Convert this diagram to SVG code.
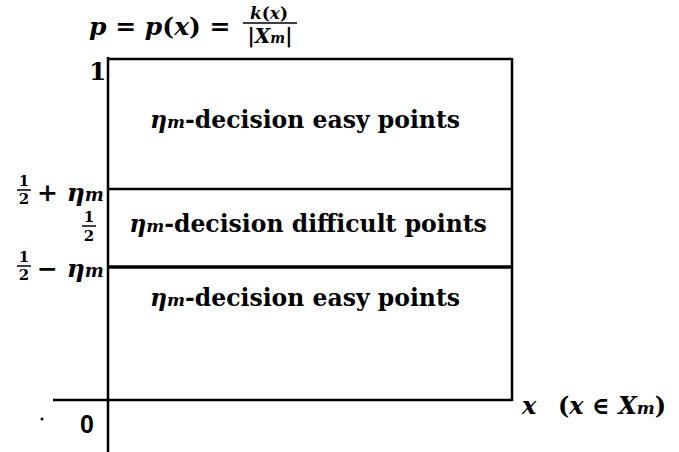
<svg xmlns="http://www.w3.org/2000/svg" width="679" height="452" viewBox="0 0 679 452">
<style>
text{font-family:"DejaVu Serif","Liberation Serif",serif;font-weight:bold;fill:#000}
.i{font-style:italic}
.ax{stroke:#000;stroke-width:2.5;fill:none}
.fr{stroke:#000;stroke-width:1.5}
</style>
<rect width="679" height="452" fill="#fff"/>
<g id="connectors">
<line class="ax" x1="108" y1="57" x2="108" y2="452"/>
<line class="ax" x1="53" y1="400" x2="512" y2="400"/>
<line class="ax" x1="107" y1="59" x2="512" y2="59"/>
<line class="ax" x1="512" y1="58" x2="512" y2="401"/>
<line class="ax" x1="107" y1="189" x2="512" y2="189"/>
<line x1="107" y1="267" x2="512" y2="267" stroke="#000" stroke-width="3.5"/>
</g>
<g id="title">
<text x="89" y="35" font-size="25"><tspan class="i">p</tspan> = <tspan class="i">p</tspan>(<tspan class="i">x</tspan>) =</text>
<text x="269" y="19" font-size="17" text-anchor="middle"><tspan class="i">k</tspan>(<tspan class="i">x</tspan>)</text>
<line class="fr" x1="243" y1="23" x2="297" y2="23"/>
<text x="270" y="43" font-size="20" text-anchor="middle">|<tspan class="i">X</tspan><tspan class="i" font-size="14">m</tspan>|</text>
</g>
<g id="labels-left">
<text x="89" y="80" font-size="25">1</text>
<text x="24" y="186" font-size="15" text-anchor="middle">1</text>
<line class="fr" x1="17" y1="190" x2="31" y2="190"/>
<text x="24" y="204" font-size="15" text-anchor="middle">2</text>
<text x="37" y="201" font-size="25">+ <tspan class="i">η</tspan><tspan class="i" font-size="18">m</tspan></text>
<text x="89" y="222" font-size="15" text-anchor="middle">1</text>
<line class="fr" x1="82" y1="226" x2="96" y2="226"/>
<text x="89" y="241" font-size="15" text-anchor="middle">2</text>
<text x="24" y="262" font-size="15" text-anchor="middle">1</text>
<line class="fr" x1="17" y1="266" x2="31" y2="266"/>
<text x="24" y="280" font-size="15" text-anchor="middle">2</text>
<text x="37" y="277" font-size="25">− <tspan class="i">η</tspan><tspan class="i" font-size="18">m</tspan></text>
<text style="font-family:'Liberation Sans',Arial,sans-serif" x="80" y="433" font-size="25">0</text>
<circle cx="42" cy="419" r="1.5" fill="#000"/>
</g>
<g id="region-top">
<text x="305" y="128" font-size="23.5" text-anchor="middle"><tspan class="i">η</tspan><tspan class="i" font-size="17">m</tspan>-decision easy points</text>
</g>
<g id="region-middle">
<text x="308" y="232" font-size="23.5" text-anchor="middle"><tspan class="i">η</tspan><tspan class="i" font-size="17">m</tspan>-decision difficult points</text>
</g>
<g id="region-bottom">
<text x="305" y="306" font-size="23.5" text-anchor="middle"><tspan class="i">η</tspan><tspan class="i" font-size="17">m</tspan>-decision easy points</text>
</g>
<g id="x-label">
<text x="522" y="414" font-size="24"><tspan class="i">x</tspan></text>
<text x="558" y="414" font-size="24">(<tspan class="i">x</tspan> ∈ <tspan class="i">X</tspan><tspan class="i" font-size="17">m</tspan>)</text>
</g>
</svg>
